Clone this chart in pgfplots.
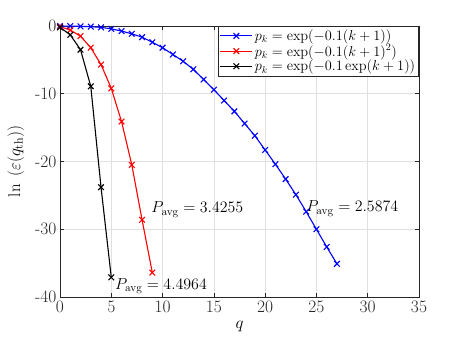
\RequirePackage{fix-cm}
\documentclass[border=0pt]{standalone}
\usepackage{pgfplots}
\pgfplotsset{compat=1.18}
\definecolor{axgray}{rgb}{0.15,0.15,0.15}
\definecolor{gridgray}{rgb}{0.88,0.88,0.88}
\begin{document}
\begin{tikzpicture}
  \begin{axis}[
    scale only axis,
    width=359bp, height=271bp,
    xmin=0, xmax=35, ymin=-40, ymax=0,
    xtick={0,5,...,35},
    ytick={-40,-30,...,0},
    yticklabels={\textrm{-40},\textrm{-30},\textrm{-20},\textrm{-10},\textrm{0}},
    xticklabels={0,5,10,15,20,25,30,35},
    tick align=inside,
    major tick length=4bp,
    axis line style={axgray, line width=0.6bp},
    every tick/.style={axgray, line width=0.6bp},
    grid=major,
    grid style={gridgray, line width=0.6bp},
    ticklabel style={font=\fontsize{17.5}{19}\selectfont, text=axgray},
    xlabel={$q$},
    ylabel={$\ln\;\left(\varepsilon(q_{\mathrm{th}})\right)$},
    label style={font=\fontsize{17}{20}\selectfont},
    xlabel style={yshift=-2bp},
    ylabel style={yshift=4bp},
    legend style={at={(1,1)}, anchor=north east, draw=axgray, line width=0.6bp,
      font=\fontsize{14.4}{16}\selectfont, inner sep=1.5bp, row sep=-1.5bp,
      cells={anchor=west}},
    legend image code/.code={\draw[mark repeat=2,mark phase=2,#1]
      plot coordinates {(0bp,0bp)(16bp,0bp)(32bp,0bp)};},
    every axis plot/.append style={line width=1.1bp, mark=x, mark size=4bp},
    clip=false,
  ]
  \addplot[blue] coordinates {
    (0,0) (1,-0.02) (2,-0.05) (3,-0.1) (4,-0.2) (5,-0.42) (6,-0.75)
    (7,-1.15) (8,-1.65) (9,-2.4) (10,-3.2) (11,-4.2) (12,-5.2) (13,-6.4)
    (14,-7.9) (15,-9.4) (16,-11.0) (17,-12.6) (18,-14.4) (19,-16.2)
    (20,-18.3) (21,-20.4) (22,-22.6) (23,-24.9) (24,-27.4) (25,-30.0)
    (26,-32.6) (27,-35.1)
  };
  \addlegendentry{$p_k=\exp(-0.1(k+1))$}
  \addplot[red] coordinates {
    (0,-0.1) (1,-0.6) (2,-1.5) (3,-3.2) (4,-5.7) (5,-9.2) (6,-14.1)
    (7,-20.5) (8,-28.6) (9,-36.4)
  };
  \addlegendentry{$p_k=\exp(-0.1(k+1)^2)$}
  \addplot[black] coordinates {
    (0,-0.2) (1,-1.3) (2,-3.5) (3,-8.9) (4,-23.8) (5,-37.1)
  };
  \addlegendentry{$p_k=\exp(-0.1\exp(k+1))$}
  \node[anchor=base west, inner sep=0pt, font=\fontsize{16}{18}\selectfont]
    at (axis cs:8.9,-27.6) {$P_{\mathrm{avg}}=3.4255$};
  \node[anchor=base west, inner sep=0pt, font=\fontsize{16}{18}\selectfont]
    at (axis cs:5.35,-38.9) {$P_{\mathrm{avg}}=4.4964$};
  \node[anchor=base west, inner sep=0pt, font=\fontsize{16}{18}\selectfont]
    at (axis cs:24.0,-27.4) {$P_{\mathrm{avg}}=2.5874$};
  \end{axis}
  \path (current axis.south west) ++(-60bp,-51bp) rectangle ++(463bp,348bp);
\end{tikzpicture}
\end{document}
